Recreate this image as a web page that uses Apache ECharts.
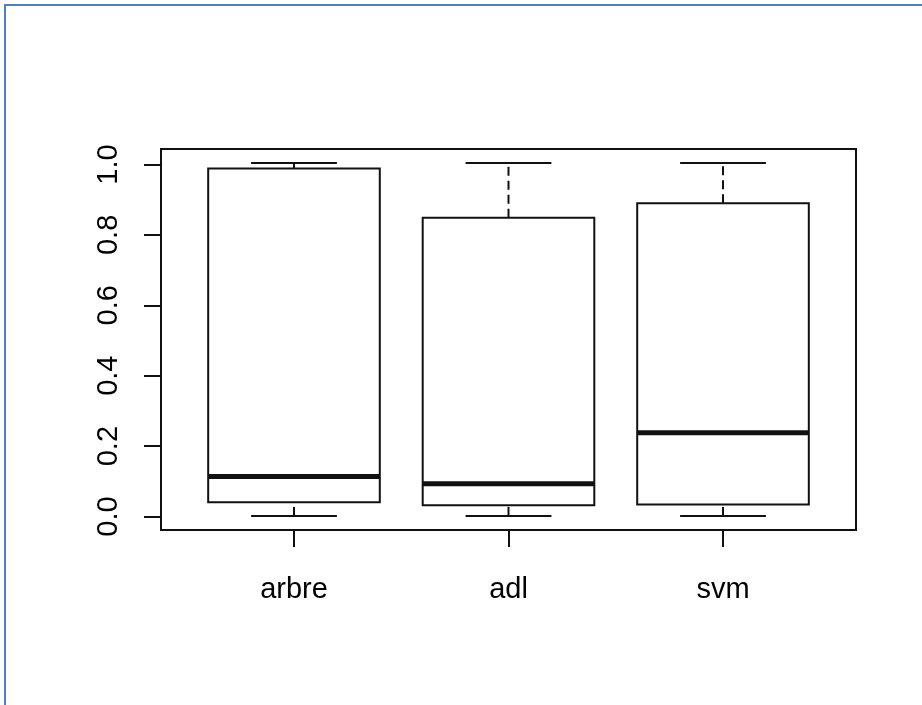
<!DOCTYPE html>
<html>
<head>
<meta charset="utf-8">
<script src="https://cdn.jsdelivr.net/npm/echarts@6/dist/echarts.min.js"></script>
<style>
  html, body { margin: 0; padding: 0; background: #fff; }
  #wrap { position: relative; width: 922px; height: 705px; overflow: hidden; }
  #chart { position: absolute; left: 0; top: 0; width: 922px; height: 705px; }
  #frame { position: absolute; left: 4px; top: 4px; width: 940px; height: 720px;
           border-left: 2px solid #4F81BD; border-top: 2px solid #4F81BD; pointer-events: none; }
</style>
</head>
<body>
<div id="wrap">
  <div id="chart"></div>
  <div id="frame"></div>
</div>
<script>
// ---- data ----
const categories = ['arbre', 'adl', 'svm'];
const lowWhisker = [0.0, 0.0, 0.0];
const q1Values = [0.039, 0.030, 0.032];
const medianValues = [0.112, 0.091, 0.236];
const q3Values = [0.985, 0.845, 0.886];
const highWhisker = [1.0, 1.0, 1.0];
const yTickInterval = 0.2;

const boxData = categories.map((c, i) => [i + 1, lowWhisker[i], q1Values[i], medianValues[i], q3Values[i], highWhisker[i]]);

const INK = '#111';
const FONT = 'Liberation Sans, Arial, sans-serif';

function renderBox(params, api) {
  const x = api.value(0);
  const lo = api.value(1), q1 = api.value(2), md = api.value(3), q3 = api.value(4), hi = api.value(5);
  const halfBox = 0.4, halfCap = 0.2;
  const P = (xx, yy) => api.coord([xx, yy]);
  const line = (a, b, extra) => ({
    type: 'line',
    shape: { x1: a[0], y1: a[1], x2: b[0], y2: b[1] },
    style: Object.assign({ stroke: INK, lineWidth: 2 }, extra || {})
  });
  const tl = P(x - halfBox, q3), br = P(x + halfBox, q1);
  return {
    type: 'group',
    children: [
      line(P(x, q3), P(x, hi), { lineDash: [9, 5] }),
      line(P(x, lo), P(x, q1), { lineDash: [9, 5] }),
      line(P(x - halfCap, hi), P(x + halfCap, hi)),
      line(P(x - halfCap, lo), P(x + halfCap, lo)),
      {
        type: 'rect',
        shape: { x: tl[0], y: tl[1], width: br[0] - tl[0], height: br[1] - tl[1] },
        style: { fill: '#fff', stroke: INK, lineWidth: 2 }
      },
      line(P(x - halfBox, md), P(x + halfBox, md), { lineWidth: 5 })
    ]
  };
}

const chart = echarts.init(document.getElementById('chart'), null, { renderer: 'canvas' });
chart.setOption({
  animation: false,
  backgroundColor: 'transparent',
  grid: [
    { left: 161, right: 66, top: 149, bottom: 175, show: true, borderColor: INK, borderWidth: 2, backgroundColor: 'transparent' },
    { left: 161, right: 66, top: 164.5, bottom: 188.5 },
    { left: 294, right: 199, top: 149, bottom: 175 }
  ],
  xAxis: [
    { gridIndex: 0, type: 'value', min: 0.38, max: 3.62, show: false },
    { gridIndex: 1, type: 'value', min: 0, max: 1, show: false },
    {
      gridIndex: 2, type: 'category', data: categories, boundaryGap: false, position: 'bottom',
      axisLine: { show: true, onZero: false, lineStyle: { color: INK, width: 2 } },
      axisTick: { show: true, length: 17, inside: false, lineStyle: { color: INK, width: 2 } },
      axisLabel: { show: true, margin: 45, color: '#000', fontSize: 29, fontFamily: FONT },
      splitLine: { show: false }
    }
  ],
  yAxis: [
    { gridIndex: 0, type: 'value', min: -0.04, max: 1.04, show: false },
    {
      gridIndex: 1, type: 'value', min: 0, max: 1, interval: yTickInterval, position: 'left',
      axisLine: { show: true, onZero: false, lineStyle: { color: INK, width: 2 } },
      axisTick: { show: true, length: 17, inside: false, lineStyle: { color: INK, width: 2 } },
      axisLabel: { show: true, rotate: 90, margin: 38, color: '#000', fontSize: 29, fontFamily: FONT,
                   formatter: v => v.toFixed(1) },
      splitLine: { show: false }
    },
    { gridIndex: 2, type: 'value', min: -0.04, max: 1.04, show: false }
  ],
  series: [
    {
      type: 'custom',
      xAxisIndex: 0, yAxisIndex: 0,
      renderItem: renderBox,
      encode: { x: 0, y: [1, 2, 3, 4, 5] },
      data: boxData,
      clip: false
    }
  ]
});
</script>
</body>
</html>
